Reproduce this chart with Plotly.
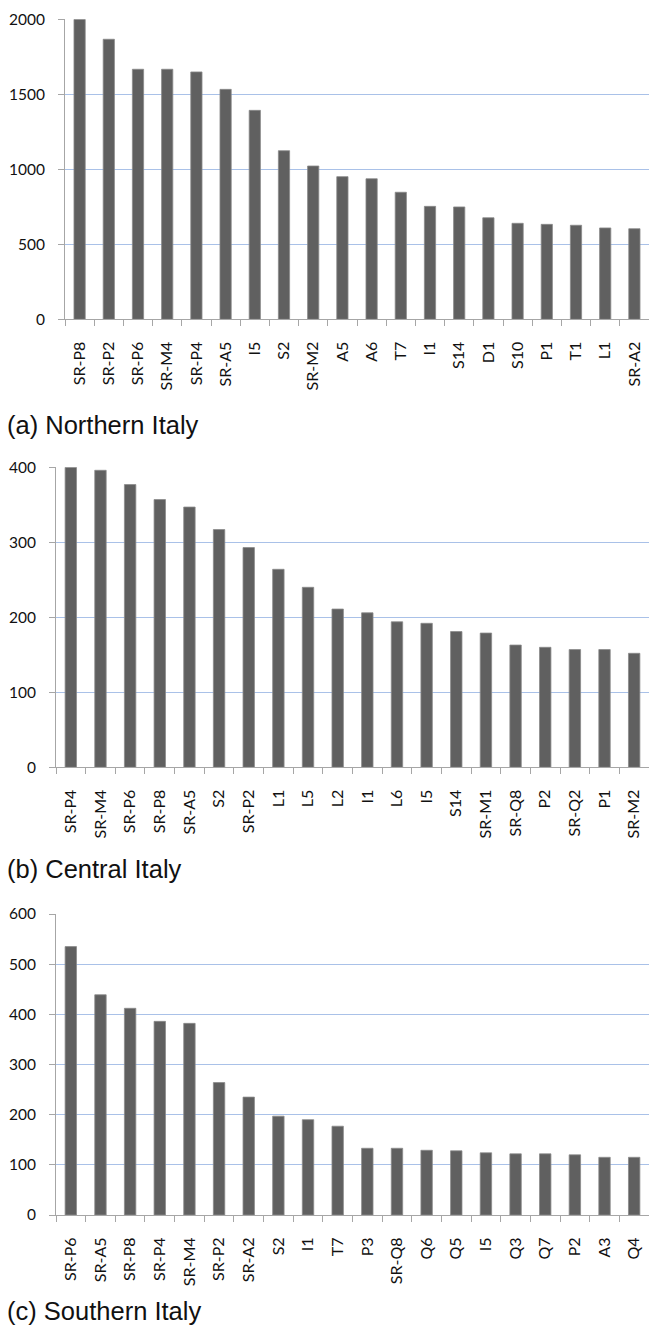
import plotly.graph_objects as go

north_cats = ["SR-P8", "SR-P2", "SR-P6", "SR-M4", "SR-P4", "SR-A5", "I5", "S2", "SR-M2", "A5",
              "A6", "T7", "I1", "S14", "D1", "S10", "P1", "T1", "L1", "SR-A2"]
north_vals = [2000, 1867, 1667, 1667, 1649, 1533, 1393, 1124, 1022, 951,
              937, 847, 753, 749, 677, 640, 633, 627, 609, 604]

central_cats = ["SR-P4", "SR-M4", "SR-P6", "SR-P8", "SR-A5", "S2", "SR-P2", "L1", "L5", "L2",
                "I1", "L6", "I5", "S14", "SR-M1", "SR-Q8", "P2", "SR-Q2", "P1", "SR-M2"]
central_vals = [400, 396, 377, 357, 347, 317, 293, 264, 240, 211,
                206, 194, 192, 181, 179, 163, 160, 157, 157, 152]

south_cats = ["SR-P6", "SR-A5", "SR-P8", "SR-P4", "SR-M4", "SR-P2", "SR-A2", "S2", "I1", "T7",
              "P3", "SR-Q8", "Q6", "Q5", "I5", "Q3", "Q7", "P2", "A3", "Q4"]
south_vals = [535, 439, 412, 386, 382, 264, 235, 197, 190, 177,
              133, 133, 129, 128, 124, 122, 122, 120, 115, 115]

captions = ["(a) Northern Italy", "(b) Central Italy", "(c) Southern Italy"]
y_max = [2000, 400, 600]
y_dtick = [500, 100, 100]

W, H = 649, 1330
# pixel geometry: (left axis x, top px, bottom px, caption centre y px)
geom = [(65, 19.3, 319.3, 425),
        (56, 467.3, 767.3, 869),
        (56, 914.0, 1215.0, 1311)]

BAR = "#606060"
AXIS = "#a6a6a6"
GRID = "#a9c1e8"
FONT = "Lato"

fig = go.Figure()
datasets = [(north_cats, north_vals), (central_cats, central_vals), (south_cats, south_vals)]
for i, (cats, vals) in enumerate(datasets):
    n = i + 1
    fig.add_trace(go.Bar(
        x=cats, y=vals,
        xaxis=f"x{n}" if n > 1 else "x",
        yaxis=f"y{n}" if n > 1 else "y",
        marker=dict(color=BAR, line=dict(color="#8a8a8a", width=0.8)),
        showlegend=False,
    ))
    left, top, bottom, cap_y = geom[i]
    xa = dict(
        domain=[left / W, 1.0],
        anchor=f"y{n}" if n > 1 else "y",
        type="category",
        range=[-0.5, 19.5],
        showline=True, linecolor=AXIS, linewidth=1,
        ticks="outside", tickson="boundaries", ticklen=6, tickcolor=AXIS, tickwidth=1,
        tickangle=-90,
        tickfont=dict(family=FONT, size=16, color="#111111"),
        ticklabelstandoff=15,
        showgrid=False, zeroline=False, automargin=False,
    )
    ya = dict(
        domain=[1 - bottom / H, 1 - top / H],
        anchor=f"x{n}" if n > 1 else "x",
        range=[0, y_max[i]],
        dtick=y_dtick[i], tick0=0,
        showline=True, linecolor=AXIS, linewidth=1,
        ticks="outside", ticklen=6, tickcolor=AXIS, tickwidth=1,
        tickfont=dict(family=FONT, size=15.5, color="#111111"),
        ticklabelstandoff=10,
        showgrid=True, gridcolor=GRID, gridwidth=1.3,
        zeroline=False, automargin=False,
    )
    fig.layout[f"xaxis{n}" if n > 1 else "xaxis"] = xa
    fig.layout[f"yaxis{n}" if n > 1 else "yaxis"] = ya
    fig.add_annotation(
        xref="paper", yref="paper", x=5 / W, y=1 - cap_y / H,
        xanchor="left", yanchor="middle", showarrow=False,
        text=captions[i],
        font=dict(family="Liberation Sans", size=25.5, color="#111111"),
    )

fig.update_layout(
    width=W, height=H,
    margin=dict(l=0, r=0, t=0, b=0),
    paper_bgcolor="white", plot_bgcolor="white",
    bargap=0.615,
)
fig.write_html("out.html", config={"displayModeBar": False},
               post_script="document.body.style.margin='0';document.body.style.overflow='hidden';")
